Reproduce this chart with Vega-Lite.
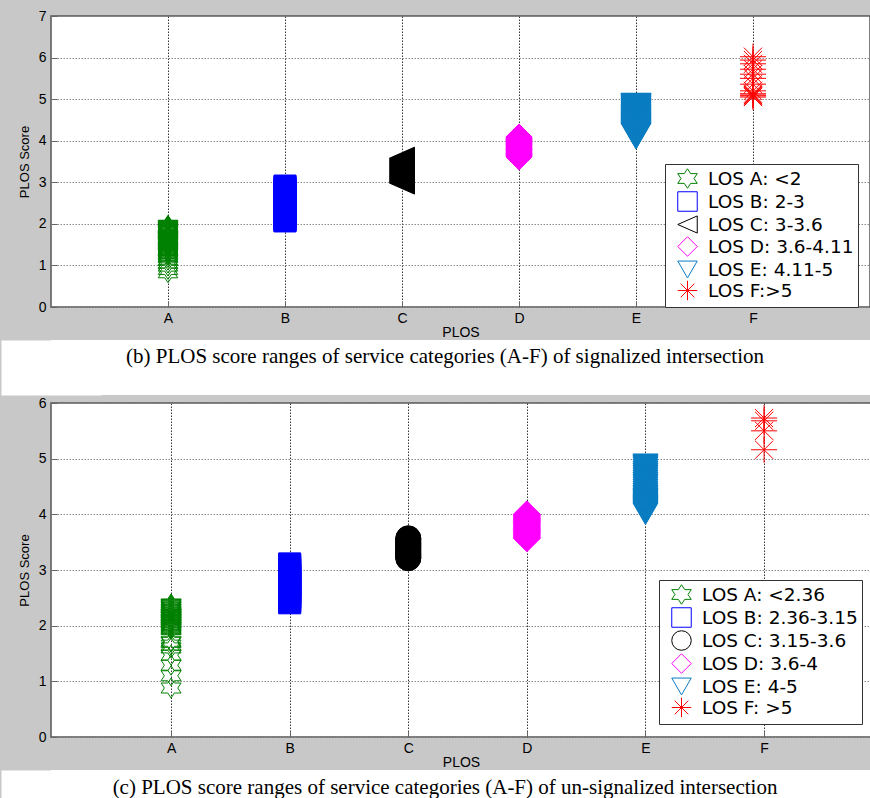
{
  "$schema": "https://vega.github.io/schema/vega-lite/v6.json",
  "background": "#c8c8c8",
  "padding": {"left": 17, "top": 8, "right": 0, "bottom": 0},
  "spacing": 0,
  "resolve": {
    "scale": {"color": "independent", "shape": "independent"},
    "legend": {"color": "independent", "shape": "independent"}
  },
  "config": {
    "view": {"stroke": "#555", "strokeWidth": 1.5, "fill": "white"},
    "font": "Liberation Sans",
    "axis": {
      "labelFont": "Liberation Sans", "titleFont": "Liberation Sans",
      "labelColor": "#000", "titleColor": "#000",
      "labelFontSize": 14, "titleFontSize": 14, "titleFontWeight": "normal",
      "domain": false, "ticks": true, "tickSize": -6, "tickColor": "#666",
      "grid": true, "gridDash": [1.5, 1.5], "gridOpacity": 1, "gridWidth": 1,
      "labelPadding": 10, "titlePadding": 0
    },
    "axisX": {"gridColor": "#333"},
    "axisY": {"gridColor": "#8a8a8a", "labelPadding": 11, "titleFontSize": 13, "minExtent": 20, "maxExtent": 20, "titlePadding": 0},
    "legend": {
      "labelFont": "DejaVu Sans", "labelFontSize": 18.5, "labelColor": "#000",
      "fillColor": "white", "strokeColor": "#333", "padding": 4,
      "symbolSize": 380, "symbolStrokeWidth": 1, "rowPadding": -5.1, "symbolOffset": 8, "labelOffset": 10, "labelLimit": 400
    }
  },
  "datasets": {
    "b": [
      {"PLOS":"A","score":0.82},{"PLOS":"A","score":0.9},{"PLOS":"A","score":0.98},{"PLOS":"A","score":1.05},{"PLOS":"A","score":1.12},{"PLOS":"A","score":1.18},{"PLOS":"A","score":1.23},{"PLOS":"A","score":1.25},{"PLOS":"A","score":1.28},{"PLOS":"A","score":1.3},{"PLOS":"A","score":1.32},{"PLOS":"A","score":1.34},{"PLOS":"A","score":1.36},{"PLOS":"A","score":1.38},{"PLOS":"A","score":1.4},{"PLOS":"A","score":1.42},{"PLOS":"A","score":1.44},{"PLOS":"A","score":1.46},{"PLOS":"A","score":1.47},{"PLOS":"A","score":1.49},{"PLOS":"A","score":1.5},{"PLOS":"A","score":1.52},{"PLOS":"A","score":1.53},{"PLOS":"A","score":1.55},{"PLOS":"A","score":1.56},{"PLOS":"A","score":1.58},{"PLOS":"A","score":1.59},{"PLOS":"A","score":1.61},{"PLOS":"A","score":1.62},{"PLOS":"A","score":1.64},{"PLOS":"A","score":1.65},{"PLOS":"A","score":1.67},{"PLOS":"A","score":1.68},{"PLOS":"A","score":1.7},{"PLOS":"A","score":1.71},{"PLOS":"A","score":1.73},{"PLOS":"A","score":1.74},{"PLOS":"A","score":1.76},{"PLOS":"A","score":1.78},{"PLOS":"A","score":1.79},{"PLOS":"A","score":1.81},{"PLOS":"A","score":1.82},{"PLOS":"A","score":1.83},{"PLOS":"A","score":1.84},{"PLOS":"A","score":1.85},{"PLOS":"A","score":1.86},{"PLOS":"A","score":1.87},{"PLOS":"A","score":1.88},{"PLOS":"A","score":1.89},{"PLOS":"A","score":1.9},{"PLOS":"A","score":1.91},{"PLOS":"A","score":1.92},{"PLOS":"A","score":1.93},{"PLOS":"A","score":1.94},{"PLOS":"A","score":1.95},{"PLOS":"A","score":1.96},{"PLOS":"A","score":1.97},
      {"PLOS":"B","score":2.07},{"PLOS":"B","score":2.08},{"PLOS":"B","score":2.1},{"PLOS":"B","score":2.11},{"PLOS":"B","score":2.13},{"PLOS":"B","score":2.15},{"PLOS":"B","score":2.17},{"PLOS":"B","score":2.2},{"PLOS":"B","score":2.23},{"PLOS":"B","score":2.26},{"PLOS":"B","score":2.29},{"PLOS":"B","score":2.32},{"PLOS":"B","score":2.35},{"PLOS":"B","score":2.38},{"PLOS":"B","score":2.41},{"PLOS":"B","score":2.44},{"PLOS":"B","score":2.47},{"PLOS":"B","score":2.5},{"PLOS":"B","score":2.53},{"PLOS":"B","score":2.56},{"PLOS":"B","score":2.59},{"PLOS":"B","score":2.62},{"PLOS":"B","score":2.65},{"PLOS":"B","score":2.68},{"PLOS":"B","score":2.71},{"PLOS":"B","score":2.74},{"PLOS":"B","score":2.77},{"PLOS":"B","score":2.8},{"PLOS":"B","score":2.83},{"PLOS":"B","score":2.86},{"PLOS":"B","score":2.89},{"PLOS":"B","score":2.91},
      {"PLOS":"C","score":2.98},{"PLOS":"C","score":3.0},{"PLOS":"C","score":3.02},{"PLOS":"C","score":3.04},{"PLOS":"C","score":3.06},{"PLOS":"C","score":3.08},{"PLOS":"C","score":3.1},{"PLOS":"C","score":3.12},{"PLOS":"C","score":3.14},{"PLOS":"C","score":3.16},{"PLOS":"C","score":3.18},{"PLOS":"C","score":3.2},{"PLOS":"C","score":3.22},{"PLOS":"C","score":3.24},{"PLOS":"C","score":3.26},{"PLOS":"C","score":3.28},{"PLOS":"C","score":3.3},{"PLOS":"C","score":3.32},{"PLOS":"C","score":3.34},{"PLOS":"C","score":3.36},{"PLOS":"C","score":3.38},{"PLOS":"C","score":3.4},{"PLOS":"C","score":3.42},{"PLOS":"C","score":3.44},{"PLOS":"C","score":3.46},{"PLOS":"C","score":3.48},{"PLOS":"C","score":3.5},{"PLOS":"C","score":3.52},{"PLOS":"C","score":3.54},{"PLOS":"C","score":3.56},{"PLOS":"C","score":3.58},
      {"PLOS":"D","score":3.61},{"PLOS":"D","score":3.63},{"PLOS":"D","score":3.65},{"PLOS":"D","score":3.67},{"PLOS":"D","score":3.69},{"PLOS":"D","score":3.71},{"PLOS":"D","score":3.73},{"PLOS":"D","score":3.75},{"PLOS":"D","score":3.77},{"PLOS":"D","score":3.79},{"PLOS":"D","score":3.81},{"PLOS":"D","score":3.83},{"PLOS":"D","score":3.85},{"PLOS":"D","score":3.87},{"PLOS":"D","score":3.89},{"PLOS":"D","score":3.91},{"PLOS":"D","score":3.93},{"PLOS":"D","score":3.95},{"PLOS":"D","score":3.97},{"PLOS":"D","score":3.99},{"PLOS":"D","score":4.01},{"PLOS":"D","score":4.03},{"PLOS":"D","score":4.05},{"PLOS":"D","score":4.07},{"PLOS":"D","score":4.09},
      {"PLOS":"E","score":4.11},{"PLOS":"E","score":4.13},{"PLOS":"E","score":4.15},{"PLOS":"E","score":4.18},{"PLOS":"E","score":4.2},{"PLOS":"E","score":4.22},{"PLOS":"E","score":4.25},{"PLOS":"E","score":4.27},{"PLOS":"E","score":4.3},{"PLOS":"E","score":4.32},{"PLOS":"E","score":4.35},{"PLOS":"E","score":4.37},{"PLOS":"E","score":4.4},{"PLOS":"E","score":4.42},{"PLOS":"E","score":4.45},{"PLOS":"E","score":4.47},{"PLOS":"E","score":4.5},{"PLOS":"E","score":4.52},{"PLOS":"E","score":4.55},{"PLOS":"E","score":4.57},{"PLOS":"E","score":4.6},{"PLOS":"E","score":4.62},{"PLOS":"E","score":4.65},{"PLOS":"E","score":4.67},{"PLOS":"E","score":4.7},{"PLOS":"E","score":4.72},{"PLOS":"E","score":4.75},{"PLOS":"E","score":4.78},{"PLOS":"E","score":4.8},{"PLOS":"E","score":4.82},{"PLOS":"E","score":4.83},
      {"PLOS":"F","score":5.05},{"PLOS":"F","score":5.08},{"PLOS":"F","score":5.1},{"PLOS":"F","score":5.13},{"PLOS":"F","score":5.2},{"PLOS":"F","score":5.36},{"PLOS":"F","score":5.5},{"PLOS":"F","score":5.6},{"PLOS":"F","score":5.72},{"PLOS":"F","score":5.85},{"PLOS":"F","score":5.94},{"PLOS":"F","score":6.02}
    ],
    "c": [
      {"PLOS":"A","score":0.88},{"PLOS":"A","score":1.1},{"PLOS":"A","score":1.29},{"PLOS":"A","score":1.47},{"PLOS":"A","score":1.6},{"PLOS":"A","score":1.65},{"PLOS":"A","score":1.7},{"PLOS":"A","score":1.72},{"PLOS":"A","score":1.93},{"PLOS":"A","score":1.95},{"PLOS":"A","score":1.97},{"PLOS":"A","score":1.99},{"PLOS":"A","score":2.0},{"PLOS":"A","score":2.02},{"PLOS":"A","score":2.03},{"PLOS":"A","score":2.05},{"PLOS":"A","score":2.06},{"PLOS":"A","score":2.08},{"PLOS":"A","score":2.09},{"PLOS":"A","score":2.11},{"PLOS":"A","score":2.12},{"PLOS":"A","score":2.14},{"PLOS":"A","score":2.15},{"PLOS":"A","score":2.17},{"PLOS":"A","score":2.18},{"PLOS":"A","score":2.2},{"PLOS":"A","score":2.21},{"PLOS":"A","score":2.23},{"PLOS":"A","score":2.24},{"PLOS":"A","score":2.26},{"PLOS":"A","score":2.27},{"PLOS":"A","score":2.29},{"PLOS":"A","score":2.3},{"PLOS":"A","score":2.32},{"PLOS":"A","score":2.33},{"PLOS":"A","score":2.35},{"PLOS":"A","score":2.36},{"PLOS":"A","score":2.38},{"PLOS":"A","score":2.39},
      {"PLOS":"B","score":2.41},{"PLOS":"B","score":2.43},{"PLOS":"B","score":2.45},{"PLOS":"B","score":2.47},{"PLOS":"B","score":2.5},{"PLOS":"B","score":2.52},{"PLOS":"B","score":2.55},{"PLOS":"B","score":2.58},{"PLOS":"B","score":2.61},{"PLOS":"B","score":2.64},{"PLOS":"B","score":2.67},{"PLOS":"B","score":2.7},{"PLOS":"B","score":2.73},{"PLOS":"B","score":2.76},{"PLOS":"B","score":2.79},{"PLOS":"B","score":2.82},{"PLOS":"B","score":2.85},{"PLOS":"B","score":2.88},{"PLOS":"B","score":2.91},{"PLOS":"B","score":2.94},{"PLOS":"B","score":2.97},{"PLOS":"B","score":3.0},{"PLOS":"B","score":3.03},{"PLOS":"B","score":3.06},{"PLOS":"B","score":3.09},{"PLOS":"B","score":3.11},
      {"PLOS":"C","score":3.21},{"PLOS":"C","score":3.22},{"PLOS":"C","score":3.24},{"PLOS":"C","score":3.26},{"PLOS":"C","score":3.28},{"PLOS":"C","score":3.3},{"PLOS":"C","score":3.32},{"PLOS":"C","score":3.34},{"PLOS":"C","score":3.36},{"PLOS":"C","score":3.38},{"PLOS":"C","score":3.4},{"PLOS":"C","score":3.42},{"PLOS":"C","score":3.44},{"PLOS":"C","score":3.46},{"PLOS":"C","score":3.48},{"PLOS":"C","score":3.5},{"PLOS":"C","score":3.52},{"PLOS":"C","score":3.54},{"PLOS":"C","score":3.56},{"PLOS":"C","score":3.57},
      {"PLOS":"D","score":3.57},{"PLOS":"D","score":3.59},{"PLOS":"D","score":3.61},{"PLOS":"D","score":3.63},{"PLOS":"D","score":3.65},{"PLOS":"D","score":3.67},{"PLOS":"D","score":3.69},{"PLOS":"D","score":3.71},{"PLOS":"D","score":3.73},{"PLOS":"D","score":3.75},{"PLOS":"D","score":3.77},{"PLOS":"D","score":3.79},{"PLOS":"D","score":3.81},{"PLOS":"D","score":3.83},{"PLOS":"D","score":3.85},{"PLOS":"D","score":3.87},{"PLOS":"D","score":3.89},{"PLOS":"D","score":3.91},{"PLOS":"D","score":3.93},{"PLOS":"D","score":3.95},{"PLOS":"D","score":3.97},{"PLOS":"D","score":3.99},{"PLOS":"D","score":4.0},
      {"PLOS":"E","score":4.01},{"PLOS":"E","score":4.03},{"PLOS":"E","score":4.05},{"PLOS":"E","score":4.07},{"PLOS":"E","score":4.09},{"PLOS":"E","score":4.11},{"PLOS":"E","score":4.13},{"PLOS":"E","score":4.15},{"PLOS":"E","score":4.17},{"PLOS":"E","score":4.19},{"PLOS":"E","score":4.21},{"PLOS":"E","score":4.23},{"PLOS":"E","score":4.25},{"PLOS":"E","score":4.27},{"PLOS":"E","score":4.3},{"PLOS":"E","score":4.33},{"PLOS":"E","score":4.36},{"PLOS":"E","score":4.4},{"PLOS":"E","score":4.44},{"PLOS":"E","score":4.48},{"PLOS":"E","score":4.52},{"PLOS":"E","score":4.56},{"PLOS":"E","score":4.6},{"PLOS":"E","score":4.64},{"PLOS":"E","score":4.68},{"PLOS":"E","score":4.72},{"PLOS":"E","score":4.76},{"PLOS":"E","score":4.8},{"PLOS":"E","score":4.84},{"PLOS":"E","score":4.87},{"PLOS":"E","score":4.89},
      {"PLOS":"F","score":5.16},{"PLOS":"F","score":5.5},{"PLOS":"F","score":5.68},{"PLOS":"F","score":5.73}
    ]
  },
  "vconcat": [
    {
      "width": 819, "height": 291,
      "data": {"name": "b"},
      "encoding": {
        "x": {"field": "PLOS", "type": "nominal", "title": "PLOS",
              "scale": {"type": "point", "domain": ["A","B","C","D","E","F"], "padding": 1},
              "axis": {"labelAngle": 0}},
        "y": {"field": "score", "type": "quantitative", "title": "PLOS Score",
              "scale": {"domain": [0, 7], "nice": false},
              "axis": {"values": [0,1,2,3,4,5,6,7]}},
        "color": {"field": "PLOS", "type": "nominal",
                  "scale": {"domain": ["A","B","C","D","E","F"], "range": ["#008000","#0000ff","#000000","#ff00ff","#0a7dc2","#ff0000"]},
                  "legend": {"title": null, "orient": "none", "legendX": 614, "legendY": 148,
                             "labelExpr": "{'A':'LOS A: <2','B':'LOS B: 2-3','C':'LOS C: 3-3.6','D':'LOS D: 3.6-4.11','E':'LOS E: 4.11-5','F':'LOS F:>5'}[datum.label]"}},
        "shape": {"field": "PLOS", "type": "nominal",
                  "scale": {"domain": ["A","B","C","D","E","F"], "range": [
                    "M0,-1L0.33,-0.5L1,-0.5L0.67,0L1,0.5L0.33,0.5L0,1L-0.33,0.5L-1,0.5L-0.67,0L-1,-0.5L-0.33,-0.5Z",
                    "square",
                    "M-1,0L1,-0.88L1,0.88Z",
                    "diamond",
                    "triangle-down",
                    "M0,-1L0,1M-1,0L1,0M-0.7,-0.7L0.7,0.7M-0.7,0.7L0.7,-0.7"]},
                  "legend": {"title": null, "orient": "none", "legendX": 614, "legendY": 148,
                             "labelExpr": "{'A':'LOS A: <2','B':'LOS B: 2-3','C':'LOS C: 3-3.6','D':'LOS D: 3.6-4.11','E':'LOS E: 4.11-5','F':'LOS F:>5'}[datum.label]"}}
      },
      "layer": [
        {"transform": [{"filter": "datum.PLOS === 'A'"}], "mark": {"type": "point", "filled": false, "size": 380, "strokeWidth": 1, "opacity": 1}},
        {"transform": [{"filter": "datum.PLOS === 'B'"}], "mark": {"type": "point", "filled": true, "size": 484, "opacity": 1},
         "encoding": {"color": {"value": "#0000ff"}, "shape": {"value": "square"}}},
        {"transform": [{"filter": "datum.PLOS === 'B'"}], "mark": {"type": "point", "filled": false, "size": 484, "strokeWidth": 1, "opacity": 1}},
        {"transform": [{"filter": "datum.PLOS === 'C'"}], "mark": {"type": "point", "filled": true, "size": 625, "opacity": 1},
         "encoding": {"color": {"value": "#000000"}, "shape": {"value": "M-1,0L1,-0.88L1,0.88Z"}}},
        {"transform": [{"filter": "datum.PLOS === 'C'"}], "mark": {"type": "point", "filled": false, "size": 625, "strokeWidth": 1, "opacity": 1}},
        {"transform": [{"filter": "datum.PLOS === 'D'"}], "mark": {"type": "point", "filled": true, "size": 676, "opacity": 1},
         "encoding": {"color": {"value": "#ff00ff"}, "shape": {"value": "diamond"}}},
        {"transform": [{"filter": "datum.PLOS === 'D'"}], "mark": {"type": "point", "filled": false, "size": 676, "strokeWidth": 1, "opacity": 1}},
        {"transform": [{"filter": "datum.PLOS === 'E'"}], "mark": {"type": "point", "filled": true, "size": 900, "opacity": 1},
         "encoding": {"color": {"value": "#0a7dc2"}, "shape": {"value": "triangle-down"}}},
        {"transform": [{"filter": "datum.PLOS === 'E'"}], "mark": {"type": "point", "filled": false, "size": 900, "strokeWidth": 1, "opacity": 1}},
        {"transform": [{"filter": "datum.PLOS === 'F'"}], "mark": {"type": "point", "filled": false, "size": 676, "strokeWidth": 1, "opacity": 1}}
      ]
    },
    {
      "width": 820, "height": 55,
      "view": {"stroke": null, "fill": "white"},
      "data": {"values": [{}]},
      "mark": {"type": "text", "font": "Liberation Serif", "fontSize": 21, "color": "#000", "dy": -11, "dx": -16, "baseline": "middle", "align": "center"},
      "encoding": {
        "text": {"value": "(b) PLOS score ranges of service categories (A-F) of signalized intersection"},
        "y": {"datum": 0.5, "type": "quantitative", "scale": {"domain": [0, 1]},
              "axis": {"title": null, "labels": false, "ticks": false, "grid": false, "domain": true, "domainColor": "white", "domainWidth": 100, "minExtent": 0, "maxExtent": 0}}
      }
    },
    {
      "width": 820, "height": 334,
      "data": {"name": "c"},
      "encoding": {
        "x": {"field": "PLOS", "type": "nominal", "title": "PLOS",
              "scale": {"type": "point", "domain": ["A","B","C","D","E","F"], "padding": 0.957, "align": 0.529},
              "axis": {"labelAngle": 0}},
        "y": {"field": "score", "type": "quantitative", "title": "PLOS Score",
              "scale": {"domain": [0, 6], "nice": false},
              "axis": {"values": [0,1,2,3,4,5,6]}},
        "color": {"field": "PLOS", "type": "nominal",
                  "scale": {"domain": ["A","B","C","D","E","F"], "range": ["#008000","#0000ff","#000000","#ff00ff","#0a7dc2","#ff0000"]},
                  "legend": {"title": null, "orient": "none", "legendX": 608, "legendY": 177,
                             "labelExpr": "{'A':'LOS A: <2.36','B':'LOS B: 2.36-3.15','C':'LOS C: 3.15-3.6','D':'LOS D: 3.6-4','E':'LOS E: 4-5','F':'LOS F: >5'}[datum.label]"}},
        "shape": {"field": "PLOS", "type": "nominal",
                  "scale": {"domain": ["A","B","C","D","E","F"], "range": [
                    "M0,-1L0.33,-0.5L1,-0.5L0.67,0L1,0.5L0.33,0.5L0,1L-0.33,0.5L-1,0.5L-0.67,0L-1,-0.5L-0.33,-0.5Z",
                    "square",
                    "circle",
                    "diamond",
                    "triangle-down",
                    "M0,-1L0,1M-1,0L1,0M-0.7,-0.7L0.7,0.7M-0.7,0.7L0.7,-0.7"]},
                  "legend": {"title": null, "orient": "none", "legendX": 608, "legendY": 177,
                             "labelExpr": "{'A':'LOS A: <2.36','B':'LOS B: 2.36-3.15','C':'LOS C: 3.15-3.6','D':'LOS D: 3.6-4','E':'LOS E: 4-5','F':'LOS F: >5'}[datum.label]"}}
      },
      "layer": [
        {"transform": [{"filter": "datum.PLOS === 'A'"}], "mark": {"type": "point", "filled": false, "size": 400, "strokeWidth": 1, "opacity": 1}},
        {"transform": [{"filter": "datum.PLOS === 'B'"}], "mark": {"type": "point", "filled": true, "size": 484, "opacity": 1},
         "encoding": {"color": {"value": "#0000ff"}, "shape": {"value": "square"}}},
        {"transform": [{"filter": "datum.PLOS === 'B'"}], "mark": {"type": "point", "filled": false, "size": 484, "strokeWidth": 1, "opacity": 1}},
        {"transform": [{"filter": "datum.PLOS === 'C'"}], "mark": {"type": "point", "filled": true, "size": 625, "opacity": 1},
         "encoding": {"color": {"value": "#000000"}, "shape": {"value": "circle"}}},
        {"transform": [{"filter": "datum.PLOS === 'C'"}], "mark": {"type": "point", "filled": false, "size": 625, "strokeWidth": 1, "opacity": 1}},
        {"transform": [{"filter": "datum.PLOS === 'D'"}], "mark": {"type": "point", "filled": true, "size": 729, "opacity": 1},
         "encoding": {"color": {"value": "#ff00ff"}, "shape": {"value": "diamond"}}},
        {"transform": [{"filter": "datum.PLOS === 'D'"}], "mark": {"type": "point", "filled": false, "size": 729, "strokeWidth": 1, "opacity": 1}},
        {"transform": [{"filter": "datum.PLOS === 'E'"}], "mark": {"type": "point", "filled": true, "size": 625, "opacity": 1},
         "encoding": {"color": {"value": "#0a7dc2"}, "shape": {"value": "triangle-down"}}},
        {"transform": [{"filter": "datum.PLOS === 'E'"}], "mark": {"type": "point", "filled": false, "size": 625, "strokeWidth": 1, "opacity": 1}},
        {"transform": [{"filter": "datum.PLOS === 'F'"}], "mark": {"type": "point", "filled": false, "size": 676, "strokeWidth": 1, "opacity": 1}}
      ]
    },
    {
      "width": 820, "height": 32,
      "view": {"stroke": null, "fill": "white"},
      "data": {"values": [{}]},
      "mark": {"type": "text", "font": "Liberation Serif", "fontSize": 21, "color": "#000", "dy": 2, "dx": -16, "baseline": "middle", "align": "center"},
      "encoding": {
        "text": {"value": "(c) PLOS score ranges of service categories (A-F) of un-signalized intersection"},
        "y": {"datum": 0.5, "type": "quantitative", "scale": {"domain": [0, 1]},
              "axis": {"title": null, "labels": false, "ticks": false, "grid": false, "domain": true, "domainColor": "white", "domainWidth": 100, "minExtent": 0, "maxExtent": 0}}
      }
    }
  ]
}
